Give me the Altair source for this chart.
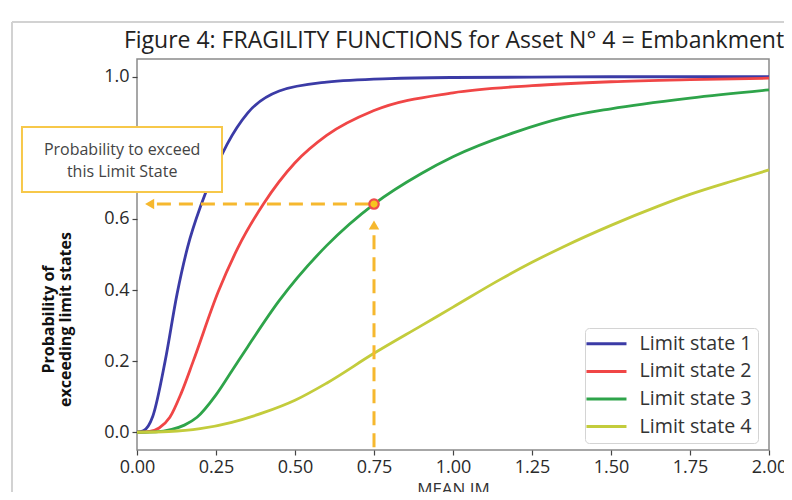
import altair as alt
import pandas as pd

# ---------------- data ----------------
series_names = ["Limit state 1", "Limit state 2", "Limit state 3", "Limit state 4"]
series_colors = ["#3b3ba6", "#f04646", "#2ea44a", "#c3cc3c"]

ls1_im = [0.0, 0.02, 0.05, 0.089, 0.127, 0.16, 0.205, 0.25, 0.285, 0.35, 0.45, 0.6, 0.8, 1.0, 1.25, 1.5, 2.0]
ls1_p = [0.0, 0.004, 0.045, 0.2, 0.39, 0.52, 0.645, 0.745, 0.81, 0.898, 0.96, 0.985, 0.995, 0.998, 0.999, 1.0, 1.0]

ls2_im = [0.0, 0.04, 0.07, 0.104, 0.14, 0.178, 0.257, 0.32, 0.40, 0.5, 0.6, 0.75, 1.0, 1.25, 1.5, 1.75, 2.0]
ls2_p = [0.0, 0.002, 0.012, 0.042, 0.11, 0.2, 0.395, 0.52, 0.642, 0.758, 0.835, 0.905, 0.955, 0.975, 0.986, 0.992, 0.996]

ls3_im = [0.0, 0.06, 0.11, 0.15, 0.19, 0.25, 0.30, 0.35, 0.45, 0.6, 0.75, 0.9, 1.0, 1.2, 1.35, 1.5, 1.75, 2.0]
ls3_p = [0.0, 0.001, 0.008, 0.02, 0.042, 0.105, 0.172, 0.24, 0.37, 0.525, 0.642, 0.728, 0.775, 0.845, 0.885, 0.91, 0.94, 0.963]

ls4_im = [0.0, 0.1, 0.2, 0.3, 0.4, 0.5, 0.6, 0.75, 0.9, 1.0, 1.15, 1.25, 1.35, 1.5, 1.65, 1.75, 1.9, 2.0]
ls4_p = [0.0, 0.002, 0.01, 0.028, 0.055, 0.09, 0.138, 0.222, 0.3, 0.352, 0.43, 0.478, 0.522, 0.582, 0.636, 0.669, 0.711, 0.738]

x_ticks = [0.0, 0.25, 0.5, 0.75, 1.0, 1.25, 1.5, 1.75, 2.0]
y_ticks = [0.0, 0.2, 0.4, 0.6, 0.8, 1.0]

# highlighted reading on limit state 3
mark_im = 0.75
mark_p = 0.642

# annotation box (data coordinates) and its text
box_im = [-0.364]
box_im2 = [0.269]
box_p = [0.859]
box_p2 = [0.676]
note_lines = ["Probability to exceed", "this Limit State"]
note_im = [-0.047, -0.047]
note_p = [0.794, 0.732]

# dashed guide lines and arrowheads
hguide_im = [0.063]
hguide_im2 = [mark_im]
vguide_p = [-0.042]
vguide_p2 = [0.57]
arrow_left_im = [0.04]
arrow_up_p = [0.583]

title_text = ["Figure 4: FRAGILITY FUNCTIONS for Asset N\u00b0 4 = Embankment"]

# ---------------- build tables ----------------
rows = []
for name, xs, ps in zip(series_names, [ls1_im, ls2_im, ls3_im, ls4_im], [ls1_p, ls2_p, ls3_p, ls4_p]):
    for xv, pv in zip(xs, ps):
        rows.append({"series": name, "im": xv, "p": pv})
df = pd.DataFrame(rows)

FONT = "Open Sans"
ORANGE = "#f6b82e"

x_scale = alt.Scale(domain=[0, 2], nice=False, zero=False)
y_scale = alt.Scale(domain=[-0.05, 1.05], nice=False, zero=False)

lines = alt.Chart(df).mark_line(strokeWidth=2.8, interpolate="monotone").encode(
    x=alt.X("im:Q", scale=x_scale,
            axis=alt.Axis(values=x_ticks, format=".2f", title="MEAN IM", grid=False,
                          titleFontSize=17, titleFontWeight="normal", titleColor="#333",
                          titleY=39, titleBaseline="middle", labelFlush=False)),
    y=alt.Y("p:Q", scale=y_scale,
            axis=alt.Axis(values=y_ticks, format=".1f", grid=False,
                          title=["Probability of", "exceeding limit states"],
                          titleFontSize=16, titleFontWeight="bold", titleColor="#111",
                          titleX=-89, titleY=260, titleBaseline="middle",
                          titleLineHeight=17, labelFlush=False)),
    color=alt.Color("series:N",
                    scale=alt.Scale(domain=series_names, range=series_colors),
                    legend=alt.Legend(title=None, orient="none", legendX=448, legendY=269,
                                      symbolType="M-2.15,0H3.85", symbolSize=178,
                                      symbolStrokeWidth=3, labelOffset=29,
                                      labelFontSize=19.6, labelFont=FONT, labelColor="#333",
                                      padding=6, rowPadding=6.6,
                                      fillColor="white", strokeColor="#d4d4d4",
                                      cornerRadius=4)),
)

box_df = pd.DataFrame({"im": box_im, "im2": box_im2, "p": box_p, "p2": box_p2})
box = alt.Chart(box_df).mark_rect(fill="white", stroke="#f7c84a", strokeWidth=2).encode(
    x=alt.X("im:Q", scale=x_scale), x2="im2:Q",
    y=alt.Y("p:Q", scale=y_scale), y2="p2:Q",
)

note_df = pd.DataFrame({"im": note_im, "p": note_p, "t": note_lines})
note = alt.Chart(note_df).mark_text(font=FONT, fontSize=16, color="#444",
                                    align="center", baseline="middle").encode(
    x=alt.X("im:Q", scale=x_scale), y=alt.Y("p:Q", scale=y_scale), text="t:N",
)

h_df = pd.DataFrame({"im": hguide_im, "im2": hguide_im2, "p": [mark_p]})
hguide = alt.Chart(h_df).mark_rule(color=ORANGE, strokeWidth=3, strokeDash=[14, 8]).encode(
    x=alt.X("im:Q", scale=x_scale), x2="im2:Q", y=alt.Y("p:Q", scale=y_scale),
)

v_df = pd.DataFrame({"im": [mark_im], "p": vguide_p, "p2": vguide_p2})
vguide = alt.Chart(v_df).mark_rule(color=ORANGE, strokeWidth=3, strokeDash=[14, 8]).encode(
    x=alt.X("im:Q", scale=x_scale), y=alt.Y("p:Q", scale=y_scale), y2="p2:Q",
)

al_df = pd.DataFrame({"im": arrow_left_im, "p": [mark_p]})
arrow_left = alt.Chart(al_df).mark_point(shape="triangle-left", filled=True, size=110,
                                         color=ORANGE, opacity=1).encode(
    x=alt.X("im:Q", scale=x_scale), y=alt.Y("p:Q", scale=y_scale),
)
au_df = pd.DataFrame({"im": [mark_im], "p": arrow_up_p})
arrow_up = alt.Chart(au_df).mark_point(shape="triangle-up", filled=True, size=110,
                                       color=ORANGE, opacity=1).encode(
    x=alt.X("im:Q", scale=x_scale), y=alt.Y("p:Q", scale=y_scale),
)

pt_df = pd.DataFrame({"im": [mark_im], "p": [mark_p]})
point = alt.Chart(pt_df).mark_point(shape="circle", filled=True, size=90, fill="#f7c51e",
                                    stroke="#ef4c4c", strokeWidth=2.2, opacity=1).encode(
    x=alt.X("im:Q", scale=x_scale), y=alt.Y("p:Q", scale=y_scale),
)

# chart title as a text mark placed above the plot
title_df = pd.DataFrame({"t": title_text})
title = alt.Chart(title_df).mark_text(font=FONT, fontSize=23, color="#222",
                                      align="center", baseline="middle").encode(
    x=alt.value(317), y=alt.value(-18), text="t:N")

# faint outer figure frame (decoration)
frame_left = alt.Chart(pt_df).mark_rule(color="#d2d2d2", strokeWidth=2).encode(
    x=alt.value(-125), y=alt.value(-37), y2=alt.value(445))
frame_top = alt.Chart(pt_df).mark_rule(color="#d2d2d2", strokeWidth=2).encode(
    x=alt.value(-125), x2=alt.value(660), y=alt.value(-37))

chart = alt.layer(
    frame_left, frame_top, lines, box, note, hguide, vguide, arrow_left, arrow_up, point, title
).properties(
    width=632, height=391,
    autosize="none",
    background="white",
    padding={"left": 129, "top": 51, "right": 15, "bottom": 42},
).configure_view(
    stroke="#8a8a8a", strokeWidth=1.5
).configure_axis(
    domain=False, grid=False, tickColor="#444", tickSize=5, tickWidth=1.2,
    labelFont=FONT, labelFontSize=18, labelColor="#2a2a2a", labelPadding=3,
    titleFont=FONT,
)

chart.save("out.html", embed_options={"renderer": "svg", "actions": False})
